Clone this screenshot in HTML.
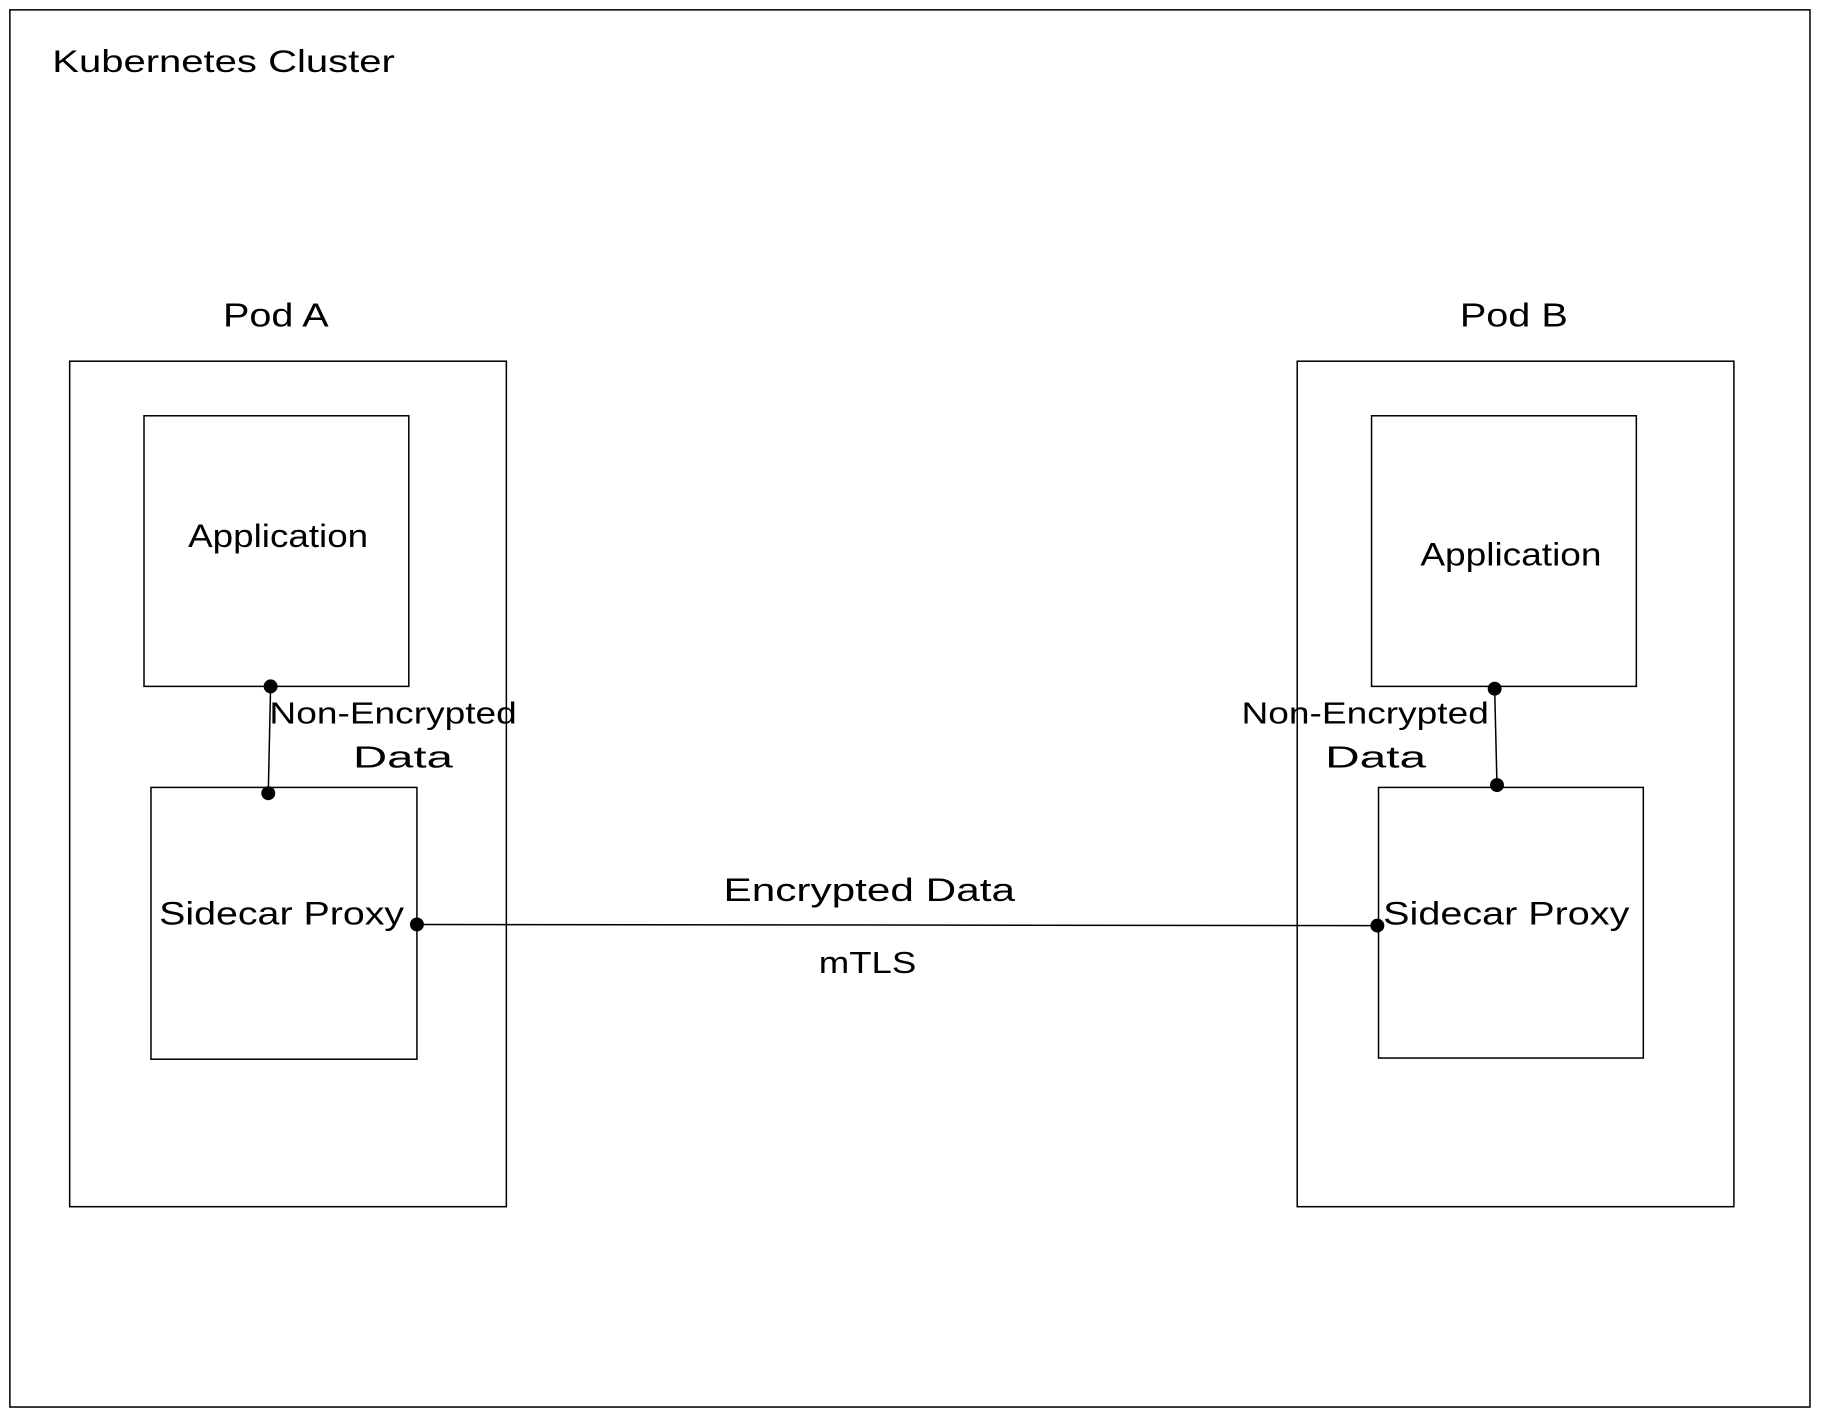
<!DOCTYPE html>
<html><head><meta charset="utf-8"><style>
html,body{margin:0;padding:0;background:#fff;}
svg{display:block;}
text{font-family:"Liberation Sans",sans-serif;fill:#000;}
</style></head><body>
<svg width="1821" height="1414" viewBox="0 0 1568 1217.5" preserveAspectRatio="none" xmlns="http://www.w3.org/2000/svg">
<rect x="0" y="0" width="1568" height="1218" fill="#fff"/>
<g fill="none" stroke="#000" stroke-width="1.3">
<rect x="8.5" y="8.5" width="1550" height="1203"/>
<rect x="60" y="311" width="376" height="728"/>
<rect x="124" y="358" width="228" height="233"/>
<rect x="130" y="678" width="229" height="234"/>
<rect x="1117" y="311" width="376" height="728"/>
<rect x="1181" y="358" width="228" height="233"/>
<rect x="1187" y="678" width="228" height="233"/>
<line x1="233" y1="591" x2="231" y2="683"/>
<line x1="1287" y1="593" x2="1289" y2="676"/>
<line x1="359" y1="796" x2="1186" y2="797"/>
</g>
<g fill="#000">
<circle cx="233" cy="591" r="6"/>
<circle cx="231" cy="683" r="6"/>
<circle cx="1287" cy="593" r="6"/>
<circle cx="1289" cy="676" r="6"/>
<circle cx="359" cy="796" r="6"/>
<circle cx="1186" cy="797" r="6"/>
</g>
<g lengthAdjust="spacingAndGlyphs">
<text x="45" y="62" font-size="27" textLength="295" lengthAdjust="spacingAndGlyphs">Kubernetes Cluster</text>
<text x="192" y="281" font-size="29" textLength="91" lengthAdjust="spacingAndGlyphs">Pod A</text>
<text x="1257" y="281" font-size="29" textLength="93" lengthAdjust="spacingAndGlyphs">Pod B</text>
<text x="162" y="471" font-size="28" textLength="155" lengthAdjust="spacingAndGlyphs">Application</text>
<text x="1223" y="487" font-size="28" textLength="156" lengthAdjust="spacingAndGlyphs">Application</text>
<text x="137" y="796" font-size="28" textLength="211" lengthAdjust="spacingAndGlyphs">Sidecar Proxy</text>
<text x="1191" y="796" font-size="28" textLength="212" lengthAdjust="spacingAndGlyphs">Sidecar Proxy</text>
<text x="232" y="623" font-size="26" textLength="213" lengthAdjust="spacingAndGlyphs">Non-Encrypted</text>
<text x="304" y="661" font-size="26" textLength="86" lengthAdjust="spacingAndGlyphs">Data</text>
<text x="1069" y="623" font-size="26" textLength="213" lengthAdjust="spacingAndGlyphs">Non-Encrypted</text>
<text x="1141" y="661" font-size="26" textLength="87" lengthAdjust="spacingAndGlyphs">Data</text>
<text x="623" y="776" font-size="28" textLength="251" lengthAdjust="spacingAndGlyphs">Encrypted Data</text>
<text x="705" y="838" font-size="26" textLength="84" lengthAdjust="spacingAndGlyphs">mTLS</text>
</g>
</svg>
</body></html>
